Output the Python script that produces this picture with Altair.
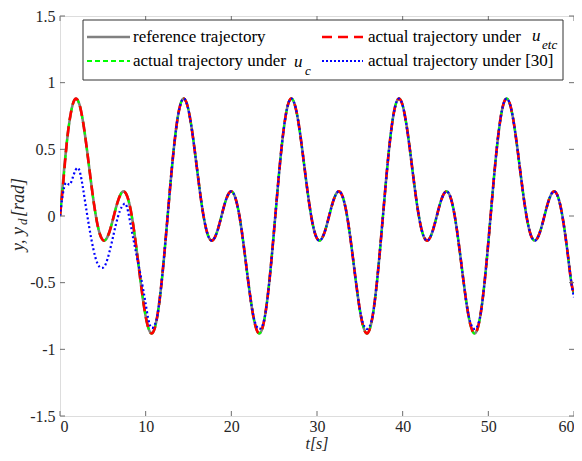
import altair as alt
import pandas as pd

# ---------------- data ----------------
T = [0.000, 0.393, 0.785, 1.178, 1.571, 1.963, 2.356, 2.749, 3.142, 3.534, 3.927, 4.320, 4.712, 5.105, 5.498, 5.890,
     6.283, 6.676, 7.069, 7.461, 7.854, 8.247, 8.639, 9.032, 9.425, 9.817, 10.210, 10.603, 10.996, 11.388, 11.781, 12.174,
     12.566, 12.959, 13.352, 13.744, 14.137, 14.530, 14.923, 15.315, 15.708, 16.101, 16.493, 16.886, 17.279, 17.671, 18.064, 18.457,
     18.850, 19.242, 19.635, 20.028, 20.420, 20.813, 21.206, 21.598, 21.991, 22.384, 22.777, 23.169, 23.562, 23.955, 24.347, 24.740,
     25.133, 25.525, 25.918, 26.311, 26.704, 27.096, 27.489, 27.882, 28.274, 28.667, 29.060, 29.452, 29.845, 30.238, 30.631, 31.023,
     31.416, 31.809, 32.201, 32.594, 32.987, 33.380, 33.772, 34.165, 34.558, 34.950, 35.343, 35.736, 36.128, 36.521, 36.914, 37.306,
     37.699, 38.092, 38.485, 38.877, 39.270, 39.663, 40.055, 40.448, 40.841, 41.233, 41.626, 42.019, 42.412, 42.804, 43.197, 43.590,
     43.982, 44.375, 44.768, 45.160, 45.553, 45.946, 46.338, 46.731, 47.124, 47.517, 47.909, 48.302, 48.695, 49.087, 49.480, 49.873,
     50.265, 50.658, 51.051, 51.444, 51.836, 52.229, 52.622, 53.014, 53.407, 53.800, 54.193, 54.585, 54.978, 55.371, 55.763, 56.156,
     56.549, 56.941, 57.334, 57.727, 58.119, 58.512, 58.905, 59.298, 59.690, 60.000]

Y_REF = [0.000, 0.289, 0.545, 0.740, 0.854, 0.878, 0.816, 0.682, 0.500, 0.299, 0.108, -0.046, -0.146, -0.184, -0.162, -0.094,
         0.000, 0.094, 0.162, 0.184, 0.146, 0.046, -0.108, -0.299, -0.500, -0.682, -0.816, -0.878, -0.854, -0.740, -0.545, -0.289,
         0.000, 0.289, 0.545, 0.740, 0.854, 0.878, 0.816, 0.682, 0.500, 0.299, 0.108, -0.046, -0.146, -0.184, -0.162, -0.094,
         0.000, 0.094, 0.162, 0.184, 0.146, 0.046, -0.108, -0.299, -0.500, -0.682, -0.816, -0.878, -0.854, -0.740, -0.545, -0.289,
         0.000, 0.289, 0.545, 0.740, 0.854, 0.878, 0.816, 0.682, 0.500, 0.299, 0.108, -0.046, -0.146, -0.184, -0.162, -0.094,
         0.000, 0.094, 0.162, 0.184, 0.146, 0.046, -0.108, -0.299, -0.500, -0.682, -0.816, -0.878, -0.854, -0.740, -0.545, -0.289,
         0.000, 0.289, 0.545, 0.740, 0.854, 0.878, 0.816, 0.682, 0.500, 0.299, 0.108, -0.046, -0.146, -0.184, -0.162, -0.094,
         0.000, 0.094, 0.162, 0.184, 0.146, 0.046, -0.108, -0.299, -0.500, -0.682, -0.816, -0.878, -0.854, -0.740, -0.545, -0.289,
         0.000, 0.289, 0.545, 0.740, 0.854, 0.878, 0.816, 0.682, 0.500, 0.299, 0.108, -0.046, -0.146, -0.184, -0.162, -0.094,
         0.000, 0.094, 0.162, 0.184, 0.146, 0.046, -0.108, -0.299, -0.500, -0.580]

# u_etc and u_c: start slightly behind the reference, then coincide with it
Y_ETC_HEAD = [0.000, 0.260]
Y_C_HEAD = [0.000, 0.260]

# method of [30]: initial transient, then close to the reference
T_30_HEAD = [0.0, 0.3, 0.6, 0.9, 1.2, 1.6, 2.0, 2.4, 2.9, 3.4, 3.9, 4.4, 4.9, 5.4, 6.0, 6.5, 7.0, 7.4, 7.8,
             8.35, 8.8, 9.3, 9.9, 10.3, 10.7, 11.1]
Y_30_HEAD = [0.0, 0.15, 0.24, 0.245, 0.24, 0.31, 0.36, 0.31, 0.12, -0.08, -0.25, -0.36, -0.39, -0.35, -0.21, -0.07, 0.04, 0.085, 0.07,
             -0.10, -0.25, -0.41, -0.62, -0.77, -0.84, -0.81]
Y_30_TAIL = [-0.740, -0.545, -0.289,
             0.000, 0.289, 0.545, 0.740, 0.854, 0.878, 0.816, 0.682, 0.500, 0.299, 0.108, -0.046, -0.146, -0.184, -0.162, -0.094,
             0.000, 0.094, 0.162, 0.184, 0.146, 0.046, -0.108, -0.299, -0.500, -0.682, -0.800, -0.845, -0.830, -0.740, -0.545, -0.289,
             0.000, 0.289, 0.545, 0.740, 0.854, 0.878, 0.816, 0.682, 0.500, 0.299, 0.108, -0.046, -0.146, -0.184, -0.162, -0.094,
             0.000, 0.094, 0.162, 0.184, 0.146, 0.046, -0.108, -0.299, -0.500, -0.682, -0.800, -0.845, -0.830, -0.740, -0.545, -0.289,
             0.000, 0.289, 0.545, 0.740, 0.854, 0.878, 0.816, 0.682, 0.500, 0.299, 0.108, -0.046, -0.146, -0.184, -0.162, -0.094,
             0.000, 0.094, 0.162, 0.184, 0.146, 0.046, -0.108, -0.299, -0.500, -0.682, -0.800, -0.845, -0.830, -0.740, -0.545, -0.289,
             0.000, 0.289, 0.545, 0.740, 0.854, 0.878, 0.816, 0.682, 0.500, 0.299, 0.108, -0.046, -0.146, -0.184, -0.162, -0.094,
             0.000, 0.094, 0.162, 0.184, 0.146, 0.046, -0.108, -0.299, -0.500, -0.610]

X_TICKS = [0, 10, 20, 30, 40, 50, 60]
Y_TICKS = [-1.5, -1, -0.5, 0, 0.5, 1, 1.5]

LEG_TEXT = ["reference trajectory", "actual trajectory under", "actual trajectory under", "actual trajectory under [30]"]

# ---------------- styling ----------------
FONT = "Liberation Serif"
W, H = 514, 400
BOX = "#6e6e6e"
TXT = "#262626"

xscale = alt.Scale(domain=[0, 60], nice=False, zero=False)
yscale = alt.Scale(domain=[-1.5, 1.5], nice=False, zero=False)
xaxis = alt.Axis(values=X_TICKS, title=None, labelFont=FONT, labelFontSize=16, labelColor=TXT,
                 ticks=False, domain=False, grid=False, labelPadding=2, labelExpr="datum.value + ''")
yaxis = alt.Axis(values=Y_TICKS, title=None, labelFont=FONT, labelFontSize=16, labelColor=TXT,
                 ticks=False, domain=False, grid=False, labelPadding=5, labelExpr="datum.value + ''")


def X(f):
    return alt.X(f, type="quantitative", scale=xscale, axis=xaxis)


def Y(f):
    return alt.Y(f, type="quantitative", scale=yscale, axis=yaxis)


df_ref = pd.DataFrame({"t": T, "y": Y_REF})
df_etc = pd.DataFrame({"t": T, "y": Y_ETC_HEAD + Y_REF[len(Y_ETC_HEAD):]})
df_c = pd.DataFrame({"t": T, "y": Y_C_HEAD + Y_REF[len(Y_C_HEAD):]})
df_30 = pd.DataFrame({"t": T_30_HEAD + T[29:], "y": Y_30_HEAD + Y_30_TAIL})


def line(df, color, width, dash=None):
    kw = dict(color=color, strokeWidth=width, interpolate="natural", clip=True)
    if dash:
        kw["strokeDash"] = dash
    return alt.Chart(df).mark_line(**kw).encode(x=X("t"), y=Y("y"))


ref_line = line(df_ref, "#808080", 2.6)
c_line = line(df_c, "#00ff00", 2.2, [5, 3])
etc_line = line(df_etc, "#ff0000", 2.6, [10, 6])
l30_line = line(df_30, "#0000ff", 2.2, [2, 2.5])

# inward ticks on the box
xt = pd.DataFrame({"v": X_TICKS})
yt = pd.DataFrame({"v": Y_TICKS})
tick_b = alt.Chart(xt).mark_rule(color=BOX, strokeWidth=1).encode(x=X("v"), y=alt.value(H), y2=alt.value(H - 5))
tick_t = alt.Chart(xt).mark_rule(color=BOX, strokeWidth=1).encode(x=X("v"), y=alt.value(0), y2=alt.value(5))
tick_l = alt.Chart(yt).mark_rule(color=BOX, strokeWidth=1).encode(y=Y("v"), x=alt.value(0), x2=alt.value(5))
tick_r = alt.Chart(yt).mark_rule(color=BOX, strokeWidth=1).encode(y=Y("v"), x=alt.value(W), x2=alt.value(W - 5))

one = pd.DataFrame({"a": [0]})


def txt(s, x, y, size=17, style="normal", align="left", angle=0, baseline="middle", color="#000000"):
    kw = dict(font=FONT, fontSize=size, fontStyle=style, align=align, baseline=baseline, color=color)
    if angle:
        kw["angle"] = angle
    return alt.Chart(one).mark_text(**kw).encode(x=alt.value(x), y=alt.value(y), text=alt.value(s))


def seg(x1, x2, y, color, width, dash=None):
    kw = dict(color=color, strokeWidth=width)
    if dash:
        kw["strokeDash"] = dash
    return alt.Chart(one).mark_rule(**kw).encode(x=alt.value(x1), x2=alt.value(x2), y=alt.value(y))


# legend (two columns, MATLAB style)
R1, R2 = 21, 45
leg_box = alt.Chart(one).mark_rect(fill="white", stroke="#333333", strokeWidth=1).encode(
    x=alt.value(23), x2=alt.value(503), y=alt.value(4), y2=alt.value(64))
legend = [
    leg_box,
    seg(27, 70, R1, "#808080", 2.4),
    txt(LEG_TEXT[0], 73, R1),
    seg(262, 303, R1, "#ff0000", 2.4, [10, 6]),
    txt(LEG_TEXT[1], 308, R1),
    txt("u", 472, R1 - 1, style="italic"),
    txt("etc", 482, R1 + 8, size=13, style="italic"),
    seg(27, 70, R2, "#00ff00", 2.2, [5, 3]),
    txt(LEG_TEXT[2], 73, R2),
    txt("u", 234, R2 + 1, style="italic"),
    txt("c", 245, R2 + 10, size=13, style="italic"),
    seg(262, 303, R2, "#0000ff", 2.2, [2, 2]),
    txt(LEG_TEXT[3], 308, R2),
]

# axis titles (y, y_d[rad] and t[s])
titles = [
    txt("y, y", -41, 235, size=18, style="italic", angle=270, color=TXT),
    txt("d", -37, 209, size=13, style="italic", angle=270, color=TXT),
    txt("[rad]", -41, 201, size=18, style="italic", angle=270, color=TXT),
    txt("t[s]", W / 2, 428, size=16, style="italic", align="center", color=TXT),
]

chart = alt.layer(
    ref_line, c_line, etc_line, l30_line,
    tick_b, tick_t, tick_l, tick_r,
    *legend, *titles,
).properties(
    width=W, height=H,
    padding={"left": 52, "top": 8, "right": 0, "bottom": 37},
    autosize=alt.AutoSizeParams(type="none"),
).configure_view(
    stroke=BOX, strokeWidth=1
).configure(background="white")

chart.save("out.html", embed_options={"renderer": "svg", "actions": False})
